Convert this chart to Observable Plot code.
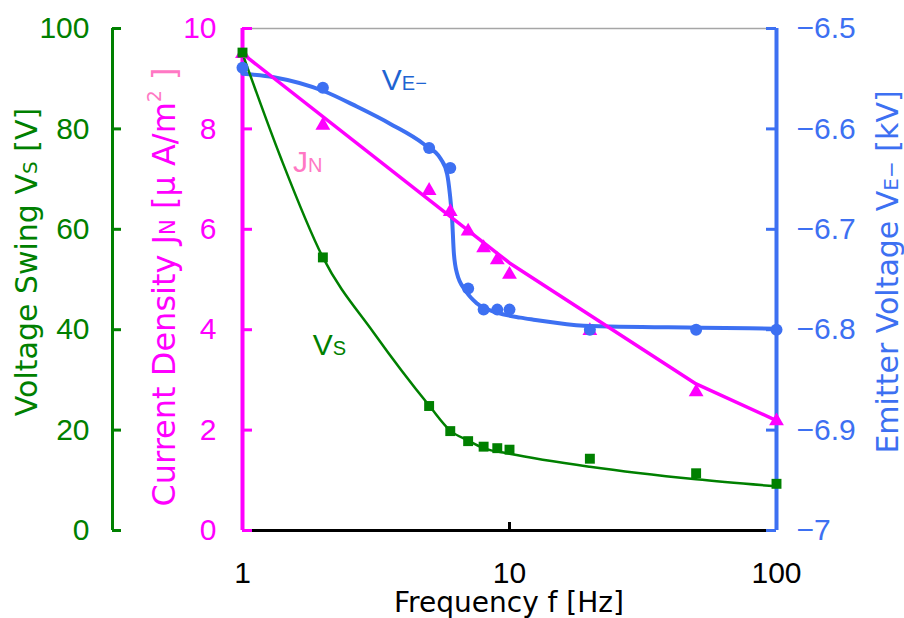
<!DOCTYPE html>
<html>
<head>
<meta charset="utf-8">
<script src="https://cdn.jsdelivr.net/npm/d3@7"></script>
<script src="https://cdn.jsdelivr.net/npm/@observablehq/plot@0.6"></script>
<style>
  body { margin: 0; background: #fff; }
  #chart { width: 904px; height: 618px; }
</style>
</head>
<body>
<div id="chart"></div>
<script>
// Measured points: drive frequency vs. voltage swing, current density, emitter voltage
const freq    = [1, 2, 5, 6, 7, 8, 9, 10, 20, 50, 100];
const vsVals  = [95.2, 54.4, 24.8, 19.8, 17.8, 16.7, 16.4, 16.1, 14.3, 11.4, 9.3];
const jnVals  = [9.5, 8.07, 6.77, 6.35, 5.96, 5.63, 5.39, 5.10, 3.98, 2.76, 2.18];
const veVals  = [-6.539, -6.559, -6.619, -6.639, -6.759, -6.780, -6.780, -6.780, -6.800, -6.800, -6.800];

// Trend lines (knots of the fitted curves)
const vsTrendF = [1, 1.39, 2, 3.1, 5, 6, 7, 8, 10, 20, 50, 100];
const vsTrend  = [95, 74.3, 54.4, 39.4, 24.9, 19.9, 17.9, 16.4, 15.3, 12.7, 10.2, 8.8];
const jnTrendF = [1, 10, 50, 100];
const jnTrend  = [9.5, 5.33, 2.92, 2.19];
const veTrendF = [1, 1.31, 2, 2.69, 3.58, 4.77, 5.53, 5.84, 5.98, 6.1, 6.19, 6.36, 6.84, 7.56, 8.99, 10.98, 12.3, 19, 52, 100];
const veTrend  = [-6.545, -6.5485, -6.562, -6.578, -6.595, -6.615, -6.630, -6.645, -6.665, -6.691, -6.724, -6.744, -6.761, -6.774, -6.783, -6.788, -6.790, -6.796, -6.798, -6.799];

// Tick values
const freqTicks = [1, 10, 100];
const vsTicks   = [0, 20, 40, 60, 80, 100];
const jnTicks   = [0, 2, 4, 6, 8, 10];
const veTicks   = [-7, -6.9, -6.8, -6.7, -6.6, -6.5];

// Layout
const W = 904, H = 618;
const M = {top: 28, right: 128, bottom: 88, left: 242};
const frameW = W - M.left - M.right;
const frameH = H - M.top - M.bottom;
const greenShift = -130;           // offset of the voltage-swing axis from the frame

const GREEN = "#008000", MAGENTA = "#ff00ff", BLUE = "#3d70f2", PINK = "#ff78c4", DARKBLUE = "#1e64d2";
const FONT = "'Liberation Sans', Arial, sans-serif";
const TITLE_FONT = "'DejaVu Sans', sans-serif";
const TICK_SIZE = 30;

// Secondary quantities are mapped onto the current-density scale (0–10)
const fromVs = v => v / 10;
const fromVe = v => (v + 7) * 20;

const points = freq.map((f, i) => ({f, vs: vsVals[i], jn: jnVals[i], ve: veVals[i]}));
const vsLine = vsTrendF.map((f, i) => ({f, v: vsTrend[i]}));
const jnLine = jnTrendF.map((f, i) => ({f, v: jnTrend[i]}));
const veLine = veTrendF.map((f, i) => ({f, v: veTrend[i]}));

const minus = d => (d < 0 ? "\u2212" : "") + Math.abs(d);

const chart = Plot.plot({
  width: W, height: H,
  marginTop: M.top, marginRight: M.right, marginBottom: M.bottom, marginLeft: M.left,
  style: {fontFamily: FONT, background: "white", overflow: "visible"},
  x: {type: "log", domain: [1, 100], axis: null},
  y: {domain: [0, 10], axis: null},
  marks: [
    // frame
    Plot.ruleY([10], {stroke: "#a6a6a6", strokeWidth: 1.5}),
    Plot.ruleY([0], {stroke: "black", strokeWidth: 3}),
    Plot.ruleX([10], {stroke: "black", strokeWidth: 3, insetTop: frameH - 8}),
    Plot.axisX(freqTicks, {tickSize: 0, tickPadding: 31, tickFormat: d => String(d), fontSize: TICK_SIZE, color: "black", label: null}),

    // voltage swing axis (left, outer)
    Plot.ruleX([1], {dx: greenShift, stroke: GREEN, strokeWidth: 3}),
    Plot.ruleY(vsTicks, {y: fromVs, dx: greenShift, insetRight: frameW - 9, stroke: GREEN, strokeWidth: 3}),
    Plot.axisY(vsTicks.map(fromVs), {anchor: "left", dx: greenShift, tickSize: 0, tickPadding: 23,
      tickFormat: d => String(Math.round(d * 10)), fontSize: TICK_SIZE, color: GREEN, label: null}),

    // current density axis (left, inner)
    Plot.ruleX([1], {stroke: MAGENTA, strokeWidth: 4}),
    Plot.ruleY(jnTicks, {insetRight: frameW - 10, stroke: MAGENTA, strokeWidth: 3}),
    Plot.axisY(jnTicks, {anchor: "left", tickSize: 0, tickPadding: 26,
      tickFormat: d => String(d), fontSize: TICK_SIZE, color: MAGENTA, label: null}),

    // emitter voltage axis (right)
    Plot.ruleX([100], {stroke: BLUE, strokeWidth: 4}),
    Plot.ruleY(veTicks, {y: fromVe, insetLeft: frameW - 10, stroke: BLUE, strokeWidth: 3}),
    Plot.axisY(veTicks.map(fromVe), {anchor: "right", tickSize: 0, tickPadding: 20,
      tickFormat: d => minus(+(-7 + d / 20).toFixed(1)), fontSize: TICK_SIZE, color: BLUE, label: null}),

    // trend lines
    Plot.line(veLine, {x: "f", y: d => fromVe(d.v), stroke: BLUE, strokeWidth: 4, curve: "monotone-x"}),
    Plot.line(jnLine, {x: "f", y: "v", stroke: MAGENTA, strokeWidth: 3.5}),
    Plot.line(vsLine, {x: "f", y: d => fromVs(d.v), stroke: GREEN, strokeWidth: 2.5, curve: "monotone-x"}),

    // measured points
    Plot.dot(points, {x: "f", y: "jn", symbol: "triangle", r: 5.5, fill: MAGENTA}),
    Plot.dot(points, {x: "f", y: d => fromVe(d.ve), symbol: "circle", r: 6, fill: BLUE}),
    Plot.dot(points, {x: "f", y: d => fromVs(d.vs), symbol: "square", r: 5.6, fill: GREEN})
  ]
});

document.getElementById("chart").appendChild(chart);

// Titles and series labels with subscripts
const svg = d3.select(chart);
const xs = chart.scale("x"), ys = chart.scale("y");

function richText(x, y, rotate, anchor, parts, size, family = FONT) {
  const t = svg.append("text")
    .attr("transform", `translate(${x},${y})` + (rotate ? ` rotate(${rotate})` : ""))
    .attr("text-anchor", anchor)
    .attr("font-family", family)
    .attr("font-size", size);
  for (const p of parts) {
    const s = t.append("tspan").attr("fill", p.color).text(p.text);
    if (p.size) s.attr("font-size", p.size);
    if (p.dy) s.attr("dy", p.dy);
  }
  return t;
}

// axis titles
richText(37, 262, -90, "middle", [
  {text: "Voltage Swing V", color: GREEN},
  {text: "S", color: GREEN, size: 20},
  {text: " [V]", color: GREEN}
], 30, TITLE_FONT);
richText(175, 287, -90, "middle", [
  {text: "Current Density J", color: MAGENTA},
  {text: "N", color: MAGENTA, size: 21},
  {text: " [\u03bc A/m", color: MAGENTA},
  {text: "2", color: PINK, size: 19, dy: -14},
  {text: "\u00a0]", color: PINK, dy: 14}
], 32, TITLE_FONT);
richText(898, 272, -90, "middle", [
  {text: "Emitter Voltage V", color: BLUE},
  {text: "E\u2212", color: BLUE, size: 20},
  {text: " [kV]", color: BLUE}
], 30, TITLE_FONT);
richText(M.left + frameW / 2, 612, 0, "middle", [
  {text: "Frequency f [Hz]", color: "black"}
], 28, TITLE_FONT);

// series labels placed in data coordinates
richText(xs.apply(3.34), ys.apply(fromVe(-6.562)), 0, "start", [
  {text: "V", color: DARKBLUE},
  {text: "E\u2212", color: DARKBLUE, size: 20}
], 30);
richText(xs.apply(1.553), ys.apply(7.14), 0, "start", [
  {text: "J", color: PINK},
  {text: "N", color: PINK, size: 20}
], 30);
richText(xs.apply(1.84), ys.apply(fromVs(34.9)), 0, "start", [
  {text: "V", color: GREEN},
  {text: "S", color: GREEN, size: 20}
], 30);
</script>
</body>
</html>
